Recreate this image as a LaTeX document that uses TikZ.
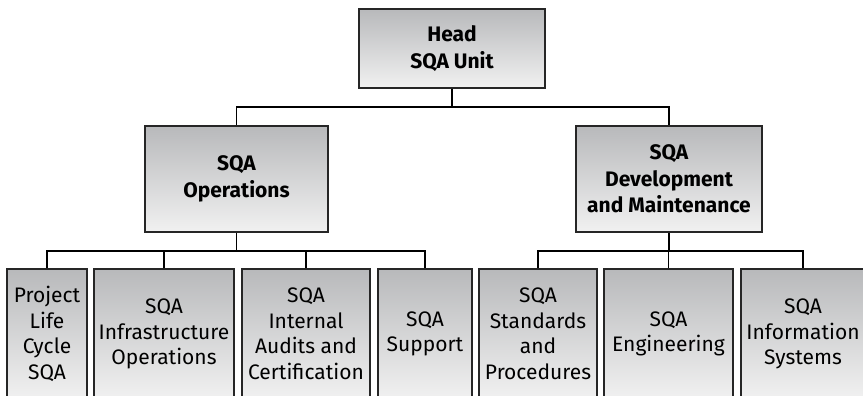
\documentclass[tikz,border=0pt]{standalone}
\usepackage{fontspec}
\setmainfont{Fira Sans}
\usetikzlibrary{positioning,calc}

\begin{document}
\begin{tikzpicture}[x=1pt, y=-1pt,
	unit/.style={draw=black!85, line width=1.5pt, top color=boxtop, bottom color=boxbot, align=center, inner sep=0pt, font=\fontsize{21}{25.5}\selectfont},
	head/.style={unit, font=\fontsize{21}{26.5}\selectfont\bfseries},
	link/.style={draw=black, line width=1.4pt}]
	\definecolor{boxtop}{HTML}{B8B9BB}
	\definecolor{boxbot}{HTML}{F1F1F1}
	\useasboundingbox (0,0) rectangle (863,396);
	\node[head, minimum width=186pt, minimum height=79pt] (H) at (452,48.5) {Head\\SQA Unit};
	\node[head, minimum width=183pt, minimum height=106pt] (O) at (236.5,179) {SQA\\Operations};
	\node[head, minimum width=186pt, minimum height=106pt] (M) at (669,179) {SQA\\Development\\and Maintenance};
	\node[unit, minimum width=80pt, minimum height=130pt] (P) at (47,334) {Project\\Life\\Cycle\\SQA};
	\node[unit, minimum width=140pt, minimum height=130pt] (I) at (164,334) {SQA\\Infrastructure\\Operations};
	\node[unit, minimum width=128pt, minimum height=130pt] (A) at (306,334) {SQA\\Internal\\Audits and\\Certification};
	\node[unit, minimum width=94pt, minimum height=130pt] (S) at (425,334) {SQA\\Support};
	\node[unit, minimum width=118pt, minimum height=130pt] (D) at (538,334) {SQA\\Standards\\and\\Procedures};
	\node[unit, minimum width=129pt, minimum height=130pt] (E) at (668.5,334) {SQA\\Engineering};
	\node[unit, minimum width=124pt, minimum height=130pt] (N) at (803,334) {SQA\\Information\\Systems};
	\coordinate (hb) at (452,107);
	\coordinate (ob) at (236.5,251);
	\coordinate (mb) at (669,251);
	\draw[link] (H.south) -- (hb);
	\draw[link] (O.north) |- (hb) -| (M.north);
	\draw[link] (O.south) -- (ob);
	\draw[link] (P.north) |- (ob) -| (S.north);
	\draw[link] (I.north) -- (I.north |- ob);
	\draw[link] (A.north) -- (A.north |- ob);
	\draw[link] (M.south) -- (mb);
	\draw[link] (D.north) |- (mb) -| (N.north);
	\draw[link] (E.north) -- (E.north |- mb);
\end{tikzpicture}
\end{document}
